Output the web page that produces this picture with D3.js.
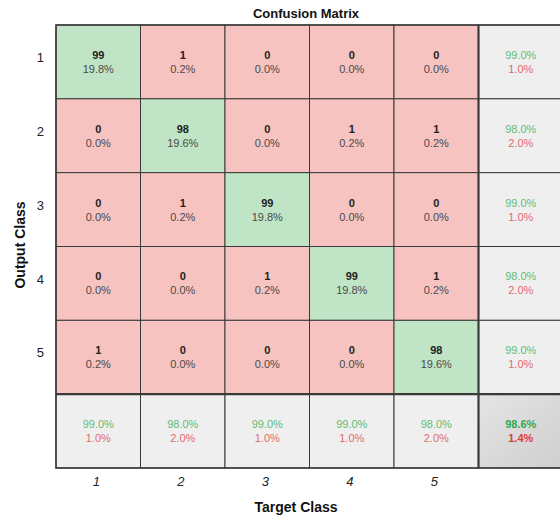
<!DOCTYPE html>
<html>
<head>
<meta charset="utf-8">
<script src="https://cdn.jsdelivr.net/npm/d3@7"></script>
<style>
  html, body { margin: 0; padding: 0; background: #fff; }
  svg { display: block; font-family: "Liberation Sans", Arial, sans-serif; }
</style>
</head>
<body>
<svg id="chart" width="560" height="516"></svg>
<script>
// Class labels (target = columns, output = rows)
const classes = ["1", "2", "3", "4", "5"];
// Counts: rows = output class, columns = target class
const counts = [
  [99, 1, 0, 0, 0],
  [0, 98, 0, 1, 1],
  [0, 1, 99, 0, 0],
  [0, 0, 1, 99, 1],
  [1, 0, 0, 0, 98]
];

const W = 560, H = 516;
const svg = d3.select("#chart");

const n = classes.length;
const total = d3.sum(counts.flat());
const fmt = v => (v * 100).toFixed(1) + "%";

// Band scales include one extra slot for the summary row/column
const slots = d3.range(n + 1).map(String);
const x = d3.scaleBand().domain(slots).range([56, 563]).paddingInner(0);
const y = d3.scaleBand().domain(slots).range([25, 468]).paddingInner(0);

const colors = {
  good: "#bfe5c6",
  bad: "#f6c3c0",
  summary: "#efefef",
  overall: "#d8d8d8",
  green: "#62bd74",
  red: "#e26a6a",
  greenStrong: "#2fa84c",
  redStrong: "#e0393b",
  grid: "#3a3a3a"
};

// Build the cell list
const cells = [];
for (let r = 0; r < n; r++) {
  for (let c = 0; c < n; c++) {
    cells.push({ r, c, type: r === c ? "good" : "bad", count: counts[r][c] });
  }
}
// Row summaries (precision per output class)
for (let r = 0; r < n; r++) {
  const s = d3.sum(counts[r]);
  cells.push({ r, c: n, type: "summary", pos: counts[r][r] / s });
}
// Column summaries (recall per target class)
for (let c = 0; c < n; c++) {
  const s = d3.sum(counts, row => row[c]);
  cells.push({ r: n, c, type: "summary", pos: counts[c][c] / s });
}
const correct = d3.sum(d3.range(n), i => counts[i][i]);
cells.push({ r: n, c: n, type: "overall", pos: correct / total });

const defs = svg.append("defs");
const grad = defs.append("linearGradient").attr("id", "overallGrad")
  .attr("x1", 0).attr("y1", 0).attr("x2", 1).attr("y2", 1);
grad.append("stop").attr("offset", "0%").attr("stop-color", "#e4e4e4");
grad.append("stop").attr("offset", "100%").attr("stop-color", "#cfcfcf");

const g = svg.append("g");
const cg = g.selectAll("g.cell").data(cells).join("g").attr("class", "cell");

cg.append("rect")
  .attr("x", d => x(String(d.c)))
  .attr("y", d => y(String(d.r)))
  .attr("width", x.bandwidth())
  .attr("height", y.bandwidth())
  .attr("fill", d => d.type === "overall" ? "url(#overallGrad)" : colors[d.type])
  .attr("stroke", colors.grid)
  .attr("stroke-width", 1);

const cx = d => x(String(d.c)) + x.bandwidth() / 2;
const cy = d => y(String(d.r)) + y.bandwidth() / 2;

// Count + share of total in the matrix cells
const mat = cg.filter(d => d.type === "good" || d.type === "bad");
mat.append("text")
  .attr("x", cx).attr("y", d => cy(d) - 3)
  .attr("text-anchor", "middle")
  .attr("font-size", 11).attr("font-weight", "bold")
  .attr("fill", "#222")
  .text(d => d.count);
mat.append("text")
  .attr("x", cx).attr("y", d => cy(d) + 11)
  .attr("text-anchor", "middle")
  .attr("font-size", 11)
  .attr("fill", "#4a4a4a")
  .text(d => fmt(d.count / total));

// Correct / incorrect rates in summary cells
const sum = cg.filter(d => d.type === "summary" || d.type === "overall");
sum.append("text")
  .attr("x", cx).attr("y", d => cy(d) - 3)
  .attr("text-anchor", "middle")
  .attr("font-size", 11)
  .attr("font-weight", d => d.type === "overall" ? "bold" : "normal")
  .attr("fill", d => d.type === "overall" ? colors.greenStrong : colors.green)
  .text(d => fmt(d.pos));
sum.append("text")
  .attr("x", cx).attr("y", d => cy(d) + 11)
  .attr("text-anchor", "middle")
  .attr("font-size", 11)
  .attr("font-weight", d => d.type === "overall" ? "bold" : "normal")
  .attr("fill", d => d.type === "overall" ? colors.redStrong : colors.red)
  .text(d => fmt(1 - d.pos));

// Heavier separators around the summary row and column
g.append("line")
  .attr("x1", x(String(n))).attr("x2", x(String(n)))
  .attr("y1", y("0")).attr("y2", y(String(n)) + y.bandwidth())
  .attr("stroke", colors.grid).attr("stroke-width", 2.2);
g.append("line")
  .attr("x1", x("0")).attr("x2", x(String(n)) + x.bandwidth())
  .attr("y1", y(String(n))).attr("y2", y(String(n)))
  .attr("stroke", colors.grid).attr("stroke-width", 2.2);
g.append("rect")
  .attr("x", x("0")).attr("y", y("0"))
  .attr("width", x.bandwidth() * (n + 1)).attr("height", y.bandwidth() * (n + 1))
  .attr("fill", "none").attr("stroke", colors.grid).attr("stroke-width", 1.5);

// Axes
const xAxis = d3.axisBottom(x).tickSize(0).tickPadding(0)
  .tickValues(d3.range(n).map(String))
  .tickFormat(d => classes[+d]);
const xg = svg.append("g").attr("transform", "translate(-2,468)").call(xAxis);
xg.select(".domain").remove();
xg.selectAll("text")
  .attr("dy", 0).attr("y", 18)
  .attr("font-family", "Liberation Sans, Arial, sans-serif")
  .attr("font-size", 13).attr("font-style", "italic").attr("fill", "#222");

const yAxis = d3.axisLeft(y).tickSize(0).tickPadding(0)
  .tickValues(d3.range(n).map(String))
  .tickFormat(d => classes[+d]);
const yg = svg.append("g").attr("transform", "translate(44,-4)").call(yAxis);
yg.select(".domain").remove();
yg.selectAll("text")
  .attr("font-family", "Liberation Sans, Arial, sans-serif")
  .attr("font-size", 13).attr("fill", "#222");

// Titles
svg.append("text")
  .attr("x", 306).attr("y", 18)
  .attr("text-anchor", "middle")
  .attr("font-size", 13).attr("font-weight", "bold").attr("fill", "#111")
  .text("Confusion Matrix");
svg.append("text")
  .attr("x", 296).attr("y", 512)
  .attr("text-anchor", "middle")
  .attr("font-size", 14).attr("font-weight", "bold").attr("fill", "#111")
  .text("Target Class");
svg.append("text")
  .attr("transform", "translate(25,245) rotate(-90)")
  .attr("text-anchor", "middle")
  .attr("font-size", 14).attr("font-weight", "bold").attr("fill", "#111")
  .text("Output Class");
</script>
</body>
</html>
